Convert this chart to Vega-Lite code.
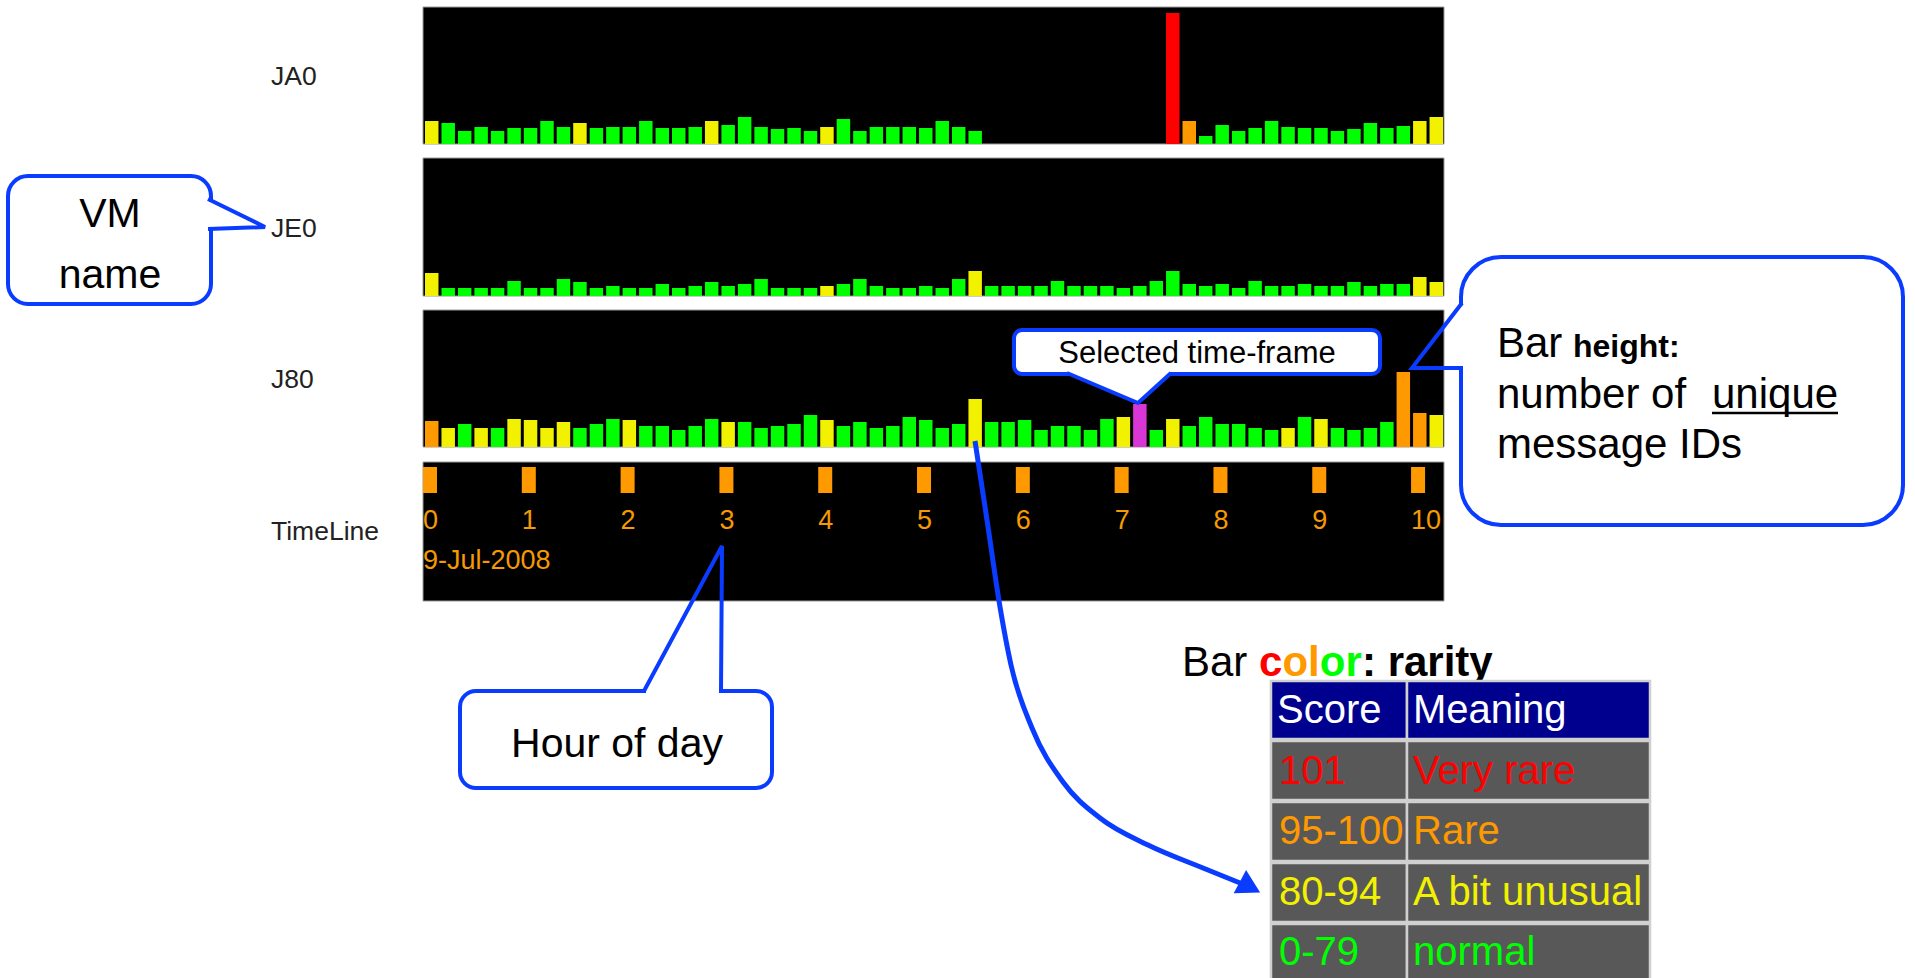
{
 "$schema": "https://vega.github.io/schema/vega-lite/v6.json",
 "width": 1915, "height": 978,
 "autosize": {"type": "fit", "contains": "padding"},
 "padding": 0,
 "background": "#ffffff",
 "config": {"view": {"stroke": null}, "font": "Liberation Sans"},
 "datasets": {
  "ja0": [
   {"start":0,"end":10,"count":23,"rarity":"unusual"},{"start":10,"end":20,"count":21,"rarity":"normal"},{"start":20,"end":30,"count":13,"rarity":"normal"},{"start":30,"end":40,"count":17,"rarity":"normal"},{"start":40,"end":50,"count":13,"rarity":"normal"},{"start":50,"end":60,"count":16,"rarity":"normal"},{"start":60,"end":70,"count":16,"rarity":"normal"},{"start":70,"end":80,"count":23,"rarity":"normal"},{"start":80,"end":90,"count":17,"rarity":"normal"},{"start":90,"end":100,"count":21,"rarity":"unusual"},
   {"start":100,"end":110,"count":16,"rarity":"normal"},{"start":110,"end":120,"count":17,"rarity":"normal"},{"start":120,"end":130,"count":17,"rarity":"normal"},{"start":130,"end":140,"count":23,"rarity":"normal"},{"start":140,"end":150,"count":16,"rarity":"normal"},{"start":150,"end":160,"count":16,"rarity":"normal"},{"start":160,"end":170,"count":17,"rarity":"normal"},{"start":170,"end":180,"count":23,"rarity":"unusual"},{"start":180,"end":190,"count":19,"rarity":"normal"},{"start":190,"end":200,"count":27,"rarity":"normal"},
   {"start":200,"end":210,"count":17,"rarity":"normal"},{"start":210,"end":220,"count":15,"rarity":"normal"},{"start":220,"end":230,"count":16,"rarity":"normal"},{"start":230,"end":240,"count":13,"rarity":"normal"},{"start":240,"end":250,"count":17,"rarity":"unusual"},{"start":250,"end":260,"count":25,"rarity":"normal"},{"start":260,"end":270,"count":13,"rarity":"normal"},{"start":270,"end":280,"count":17,"rarity":"normal"},{"start":280,"end":290,"count":17,"rarity":"normal"},{"start":290,"end":300,"count":17,"rarity":"normal"},
   {"start":300,"end":310,"count":16,"rarity":"normal"},{"start":310,"end":320,"count":23,"rarity":"normal"},{"start":320,"end":330,"count":17,"rarity":"normal"},{"start":330,"end":340,"count":13,"rarity":"normal"},
   {"start":450,"end":460,"count":131,"rarity":"very rare"},{"start":460,"end":470,"count":23,"rarity":"rare"},{"start":470,"end":480,"count":8,"rarity":"normal"},{"start":480,"end":490,"count":19,"rarity":"normal"},{"start":490,"end":500,"count":13,"rarity":"normal"},
   {"start":500,"end":510,"count":16,"rarity":"normal"},{"start":510,"end":520,"count":23,"rarity":"normal"},{"start":520,"end":530,"count":17,"rarity":"normal"},{"start":530,"end":540,"count":16,"rarity":"normal"},{"start":540,"end":550,"count":16,"rarity":"normal"},{"start":550,"end":560,"count":13,"rarity":"normal"},{"start":560,"end":570,"count":15,"rarity":"normal"},{"start":570,"end":580,"count":21,"rarity":"normal"},{"start":580,"end":590,"count":16,"rarity":"normal"},{"start":590,"end":600,"count":18,"rarity":"normal"},
   {"start":600,"end":610,"count":23,"rarity":"unusual"},{"start":610,"end":620,"count":27,"rarity":"unusual"}
  ],
  "je0": [
   {"start":0,"end":10,"count":23,"rarity":"unusual"},{"start":10,"end":20,"count":8,"rarity":"normal"},{"start":20,"end":30,"count":8,"rarity":"normal"},{"start":30,"end":40,"count":8,"rarity":"normal"},{"start":40,"end":50,"count":8,"rarity":"normal"},{"start":50,"end":60,"count":15,"rarity":"normal"},{"start":60,"end":70,"count":8,"rarity":"normal"},{"start":70,"end":80,"count":8,"rarity":"normal"},{"start":80,"end":90,"count":17,"rarity":"normal"},{"start":90,"end":100,"count":14,"rarity":"normal"},
   {"start":100,"end":110,"count":8,"rarity":"normal"},{"start":110,"end":120,"count":10,"rarity":"normal"},{"start":120,"end":130,"count":8,"rarity":"normal"},{"start":130,"end":140,"count":8,"rarity":"normal"},{"start":140,"end":150,"count":12,"rarity":"normal"},{"start":150,"end":160,"count":8,"rarity":"normal"},{"start":160,"end":170,"count":10,"rarity":"normal"},{"start":170,"end":180,"count":14,"rarity":"normal"},{"start":180,"end":190,"count":10,"rarity":"normal"},{"start":190,"end":200,"count":12,"rarity":"normal"},
   {"start":200,"end":210,"count":17,"rarity":"normal"},{"start":210,"end":220,"count":8,"rarity":"normal"},{"start":220,"end":230,"count":8,"rarity":"normal"},{"start":230,"end":240,"count":8,"rarity":"normal"},{"start":240,"end":250,"count":10,"rarity":"unusual"},{"start":250,"end":260,"count":12,"rarity":"normal"},{"start":260,"end":270,"count":17,"rarity":"normal"},{"start":270,"end":280,"count":10,"rarity":"normal"},{"start":280,"end":290,"count":8,"rarity":"normal"},{"start":290,"end":300,"count":8,"rarity":"normal"},
   {"start":300,"end":310,"count":10,"rarity":"normal"},{"start":310,"end":320,"count":8,"rarity":"normal"},{"start":320,"end":330,"count":17,"rarity":"normal"},{"start":330,"end":340,"count":25,"rarity":"unusual"},{"start":340,"end":350,"count":10,"rarity":"normal"},{"start":350,"end":360,"count":10,"rarity":"normal"},{"start":360,"end":370,"count":10,"rarity":"normal"},{"start":370,"end":380,"count":10,"rarity":"normal"},{"start":380,"end":390,"count":15,"rarity":"normal"},{"start":390,"end":400,"count":10,"rarity":"normal"},
   {"start":400,"end":410,"count":10,"rarity":"normal"},{"start":410,"end":420,"count":10,"rarity":"normal"},{"start":420,"end":430,"count":8,"rarity":"normal"},{"start":430,"end":440,"count":10,"rarity":"normal"},{"start":440,"end":450,"count":15,"rarity":"normal"},{"start":450,"end":460,"count":25,"rarity":"normal"},{"start":460,"end":470,"count":12,"rarity":"normal"},{"start":470,"end":480,"count":10,"rarity":"normal"},{"start":480,"end":490,"count":12,"rarity":"normal"},{"start":490,"end":500,"count":8,"rarity":"normal"},
   {"start":500,"end":510,"count":15,"rarity":"normal"},{"start":510,"end":520,"count":10,"rarity":"normal"},{"start":520,"end":530,"count":10,"rarity":"normal"},{"start":530,"end":540,"count":12,"rarity":"normal"},{"start":540,"end":550,"count":10,"rarity":"normal"},{"start":550,"end":560,"count":10,"rarity":"normal"},{"start":560,"end":570,"count":14,"rarity":"normal"},{"start":570,"end":580,"count":10,"rarity":"normal"},{"start":580,"end":590,"count":12,"rarity":"normal"},{"start":590,"end":600,"count":12,"rarity":"normal"},
   {"start":600,"end":610,"count":19,"rarity":"unusual"},{"start":610,"end":620,"count":14,"rarity":"unusual"}
  ],
  "j80": [
   {"start":0,"end":10,"count":26,"rarity":"rare"},{"start":10,"end":20,"count":19,"rarity":"unusual"},{"start":20,"end":30,"count":23,"rarity":"normal"},{"start":30,"end":40,"count":19,"rarity":"unusual"},{"start":40,"end":50,"count":19,"rarity":"normal"},{"start":50,"end":60,"count":28,"rarity":"unusual"},{"start":60,"end":70,"count":27,"rarity":"unusual"},{"start":70,"end":80,"count":19,"rarity":"unusual"},{"start":80,"end":90,"count":25,"rarity":"unusual"},{"start":90,"end":100,"count":19,"rarity":"normal"},
   {"start":100,"end":110,"count":23,"rarity":"normal"},{"start":110,"end":120,"count":28,"rarity":"normal"},{"start":120,"end":130,"count":27,"rarity":"unusual"},{"start":130,"end":140,"count":21,"rarity":"normal"},{"start":140,"end":150,"count":21,"rarity":"normal"},{"start":150,"end":160,"count":17,"rarity":"normal"},{"start":160,"end":170,"count":21,"rarity":"normal"},{"start":170,"end":180,"count":28,"rarity":"normal"},{"start":180,"end":190,"count":25,"rarity":"unusual"},{"start":190,"end":200,"count":25,"rarity":"normal"},
   {"start":200,"end":210,"count":19,"rarity":"normal"},{"start":210,"end":220,"count":21,"rarity":"normal"},{"start":220,"end":230,"count":23,"rarity":"normal"},{"start":230,"end":240,"count":32,"rarity":"normal"},{"start":240,"end":250,"count":27,"rarity":"unusual"},{"start":250,"end":260,"count":21,"rarity":"normal"},{"start":260,"end":270,"count":25,"rarity":"normal"},{"start":270,"end":280,"count":19,"rarity":"normal"},{"start":280,"end":290,"count":21,"rarity":"normal"},{"start":290,"end":300,"count":30,"rarity":"normal"},
   {"start":300,"end":310,"count":27,"rarity":"normal"},{"start":310,"end":320,"count":19,"rarity":"normal"},{"start":320,"end":330,"count":23,"rarity":"normal"},{"start":330,"end":340,"count":48,"rarity":"unusual"},{"start":340,"end":350,"count":25,"rarity":"normal"},{"start":350,"end":360,"count":25,"rarity":"normal"},{"start":360,"end":370,"count":27,"rarity":"normal"},{"start":370,"end":380,"count":17,"rarity":"normal"},{"start":380,"end":390,"count":21,"rarity":"normal"},{"start":390,"end":400,"count":21,"rarity":"normal"},
   {"start":400,"end":410,"count":17,"rarity":"normal"},{"start":410,"end":420,"count":28,"rarity":"normal"},{"start":420,"end":430,"count":30,"rarity":"unusual"},{"start":430,"end":440,"count":43,"rarity":"selected"},{"start":440,"end":450,"count":17,"rarity":"normal"},{"start":450,"end":460,"count":28,"rarity":"unusual"},{"start":460,"end":470,"count":21,"rarity":"normal"},{"start":470,"end":480,"count":30,"rarity":"normal"},{"start":480,"end":490,"count":23,"rarity":"normal"},{"start":490,"end":500,"count":23,"rarity":"normal"},
   {"start":500,"end":510,"count":19,"rarity":"normal"},{"start":510,"end":520,"count":17,"rarity":"normal"},{"start":520,"end":530,"count":19,"rarity":"unusual"},{"start":530,"end":540,"count":30,"rarity":"normal"},{"start":540,"end":550,"count":28,"rarity":"unusual"},{"start":550,"end":560,"count":19,"rarity":"normal"},{"start":560,"end":570,"count":17,"rarity":"normal"},{"start":570,"end":580,"count":19,"rarity":"normal"},{"start":580,"end":590,"count":25,"rarity":"normal"},{"start":590,"end":600,"count":75,"rarity":"rare"},
   {"start":600,"end":610,"count":34,"rarity":"rare"},{"start":610,"end":620,"count":32,"rarity":"unusual"}
  ],
  "hours": [
   {"hour":0,"minute":0},{"hour":1,"minute":60},{"hour":2,"minute":120},{"hour":3,"minute":180},{"hour":4,"minute":240},{"hour":5,"minute":300},{"hour":6,"minute":360},{"hour":7,"minute":420},{"hour":8,"minute":480},{"hour":9,"minute":540},{"hour":10,"minute":600}
  ]
 },
 "resolve": {"scale": {"x": "independent", "y": "independent"}},
 "layer": [
  {
   "layer": [
    {"data": {"values": [{}]}, "mark": {"type": "rect", "fill": "#000000", "stroke": "#9a9a9a", "strokeWidth": 1},
     "encoding": {"x": {"datum": 0, "type": "quantitative", "scale": {"domain": [0, 620], "range": [423, 1444], "nice": false, "zero": false, "padding": 0}, "axis": null}, "x2": {"datum": 620},
      "y": {"datum": 0, "type": "quantitative", "scale": {"domain": [0, 137], "range": [144, 7], "nice": false}, "axis": null}, "y2": {"datum": 137}}},
    {"data": {"name": "ja0"}, "mark": {"type": "bar", "binSpacing": 3},
     "encoding": {"x": {"field": "start", "type": "quantitative", "bin": {"binned": true}, "scale": {"domain": [0, 620], "range": [423, 1444], "nice": false, "zero": false, "padding": 0}, "axis": null}, "x2": {"field": "end"},
      "y": {"field": "count", "type": "quantitative", "scale": {"domain": [0, 137], "range": [144, 7], "nice": false}, "axis": null},
      "color": {"field": "rarity", "type": "nominal", "scale": {"domain": ["normal", "unusual", "rare", "very rare", "selected"], "range": ["#00ff00", "#f2f200", "#ff9900", "#ff0000", "#d936d6"]}, "legend": null}}}
   ]
  },
  {
   "layer": [
    {"data": {"values": [{}]}, "mark": {"type": "rect", "fill": "#000000", "stroke": "#9a9a9a", "strokeWidth": 1},
     "encoding": {"x": {"datum": 0, "type": "quantitative", "scale": {"domain": [0, 620], "range": [423, 1444], "nice": false, "zero": false, "padding": 0}, "axis": null}, "x2": {"datum": 620},
      "y": {"datum": 0, "type": "quantitative", "scale": {"domain": [0, 138], "range": [296, 158], "nice": false}, "axis": null}, "y2": {"datum": 138}}},
    {"data": {"name": "je0"}, "mark": {"type": "bar", "binSpacing": 3},
     "encoding": {"x": {"field": "start", "type": "quantitative", "bin": {"binned": true}, "scale": {"domain": [0, 620], "range": [423, 1444], "nice": false, "zero": false, "padding": 0}, "axis": null}, "x2": {"field": "end"},
      "y": {"field": "count", "type": "quantitative", "scale": {"domain": [0, 138], "range": [296, 158], "nice": false}, "axis": null},
      "color": {"field": "rarity", "type": "nominal", "scale": {"domain": ["normal", "unusual", "rare", "very rare", "selected"], "range": ["#00ff00", "#f2f200", "#ff9900", "#ff0000", "#d936d6"]}, "legend": null}}}
   ]
  },
  {
   "layer": [
    {"data": {"values": [{}]}, "mark": {"type": "rect", "fill": "#000000", "stroke": "#9a9a9a", "strokeWidth": 1},
     "encoding": {"x": {"datum": 0, "type": "quantitative", "scale": {"domain": [0, 620], "range": [423, 1444], "nice": false, "zero": false, "padding": 0}, "axis": null}, "x2": {"datum": 620},
      "y": {"datum": 0, "type": "quantitative", "scale": {"domain": [0, 137], "range": [447, 310], "nice": false}, "axis": null}, "y2": {"datum": 137}}},
    {"data": {"name": "j80"}, "mark": {"type": "bar", "binSpacing": 3},
     "encoding": {"x": {"field": "start", "type": "quantitative", "bin": {"binned": true}, "scale": {"domain": [0, 620], "range": [423, 1444], "nice": false, "zero": false, "padding": 0}, "axis": null}, "x2": {"field": "end"},
      "y": {"field": "count", "type": "quantitative", "scale": {"domain": [0, 137], "range": [447, 310], "nice": false}, "axis": null},
      "color": {"field": "rarity", "type": "nominal", "scale": {"domain": ["normal", "unusual", "rare", "very rare", "selected"], "range": ["#00ff00", "#f2f200", "#ff9900", "#ff0000", "#d936d6"]}, "legend": null}}}
   ]
  },
  {
   "layer": [
    {"data": {"values": [{}]}, "mark": {"type": "rect", "fill": "#000000", "stroke": "#9a9a9a", "strokeWidth": 1},
     "encoding": {"x": {"datum": 0, "type": "quantitative", "scale": {"domain": [0, 620], "range": [423, 1444], "nice": false, "zero": false, "padding": 0}, "axis": null}, "x2": {"datum": 620},
      "y": {"datum": 0, "type": "quantitative", "scale": {"domain": [0, 139], "range": [601, 462], "nice": false}, "axis": null}, "y2": {"datum": 139}}},
    {"data": {"name": "hours"}, "mark": {"type": "bar", "width": 14, "xOffset": 7, "color": "#ff9900"},
     "encoding": {"x": {"field": "minute", "type": "quantitative", "scale": {"domain": [0, 620], "range": [423, 1444], "nice": false, "zero": false, "padding": 0}, "axis": null},
      "y": {"datum": 108, "type": "quantitative", "scale": {"domain": [0, 139], "range": [601, 462], "nice": false}, "axis": null}, "y2": {"datum": 134}}},
    {"data": {"name": "hours"}, "mark": {"type": "text", "align": "left", "baseline": "alphabetic", "fontSize": 27, "color": "#f59a00"},
     "encoding": {"x": {"field": "minute", "type": "quantitative", "scale": {"domain": [0, 620], "range": [423, 1444], "nice": false, "zero": false, "padding": 0}, "axis": null},
      "y": {"datum": 72, "type": "quantitative", "scale": {"domain": [0, 139], "range": [601, 462], "nice": false}, "axis": null},
      "text": {"field": "hour", "type": "nominal"}}},
    {"data": {"values": [{"date": "9-Jul-2008"}]}, "mark": {"type": "text", "align": "left", "baseline": "alphabetic", "fontSize": 27, "color": "#f59a00"},
     "encoding": {"x": {"datum": 0, "type": "quantitative", "scale": {"domain": [0, 620], "range": [423, 1444], "nice": false, "zero": false, "padding": 0}, "axis": null},
      "y": {"datum": 32.5, "type": "quantitative", "scale": {"domain": [0, 139], "range": [601, 462], "nice": false}, "axis": null},
      "text": {"field": "date", "type": "nominal"}}}
   ]
  },
  {
   "layer": [
    {"data": {"values": [{"t": "JA0", "x": 271, "y": 77}, {"t": "JE0", "x": 271, "y": 229}, {"t": "J80", "x": 271, "y": 380}, {"t": "TimeLine", "x": 271, "y": 532}]},
     "mark": {"type": "text", "align": "left", "baseline": "middle", "fontSize": 26.5, "color": "#222222"},
     "encoding": {"x": {"field": "x", "type": "quantitative", "scale": {"domain": [0, 1915], "range": [0, 1915], "nice": false, "zero": false}, "axis": null},
      "y": {"field": "y", "type": "quantitative", "scale": {"domain": [0, 978], "range": [0, 978], "nice": false, "zero": false}, "axis": null},
      "text": {"field": "t"}}},
    {"data": {"values": [{"x": 8, "x2": 211, "y": 176, "y2": 304}]},
     "mark": {"type": "rect", "fill": "#ffffff", "stroke": "#0a3cff", "strokeWidth": 4, "cornerRadius": 20},
     "encoding": {"x": {"field": "x", "type": "quantitative", "scale": {"domain": [0, 1915], "range": [0, 1915], "nice": false, "zero": false}, "axis": null}, "x2": {"field": "x2"},
      "y": {"field": "y", "type": "quantitative", "scale": {"domain": [0, 978], "range": [0, 978], "nice": false, "zero": false}, "axis": null}, "y2": {"field": "y2"}}},
    {"data": {"values": [{"x": 1461, "x2": 1903, "y": 257, "y2": 525}]},
     "mark": {"type": "rect", "fill": "#ffffff", "stroke": "#0a3cff", "strokeWidth": 4, "cornerRadius": 40},
     "encoding": {"x": {"field": "x", "type": "quantitative", "scale": {"domain": [0, 1915], "range": [0, 1915], "nice": false, "zero": false}, "axis": null}, "x2": {"field": "x2"},
      "y": {"field": "y", "type": "quantitative", "scale": {"domain": [0, 978], "range": [0, 978], "nice": false, "zero": false}, "axis": null}, "y2": {"field": "y2"}}},
    {"data": {"values": [{"x": 1014, "x2": 1380, "y": 330, "y2": 374}]},
     "mark": {"type": "rect", "fill": "#ffffff", "stroke": "#0a3cff", "strokeWidth": 4, "cornerRadius": 8},
     "encoding": {"x": {"field": "x", "type": "quantitative", "scale": {"domain": [0, 1915], "range": [0, 1915], "nice": false, "zero": false}, "axis": null}, "x2": {"field": "x2"},
      "y": {"field": "y", "type": "quantitative", "scale": {"domain": [0, 978], "range": [0, 978], "nice": false, "zero": false}, "axis": null}, "y2": {"field": "y2"}}},
    {"data": {"values": [{"x": 460, "x2": 772, "y": 691, "y2": 788}]},
     "mark": {"type": "rect", "fill": "#ffffff", "stroke": "#0a3cff", "strokeWidth": 4, "cornerRadius": 16},
     "encoding": {"x": {"field": "x", "type": "quantitative", "scale": {"domain": [0, 1915], "range": [0, 1915], "nice": false, "zero": false}, "axis": null}, "x2": {"field": "x2"},
      "y": {"field": "y", "type": "quantitative", "scale": {"domain": [0, 978], "range": [0, 978], "nice": false, "zero": false}, "axis": null}, "y2": {"field": "y2"}}},
    {"data": {"values": [{"x": 205, "x2": 216, "y": 202, "y2": 227}, {"x": 1455, "x2": 1467, "y": 305, "y2": 366}, {"x": 646, "x2": 719, "y": 685, "y2": 697}]},
     "mark": {"type": "rect", "fill": "#ffffff"},
     "encoding": {"x": {"field": "x", "type": "quantitative", "scale": {"domain": [0, 1915], "range": [0, 1915], "nice": false, "zero": false}, "axis": null}, "x2": {"field": "x2"},
      "y": {"field": "y", "type": "quantitative", "scale": {"domain": [0, 978], "range": [0, 978], "nice": false, "zero": false}, "axis": null}, "y2": {"field": "y2"}}},
    {"data": {"values": [{"x": 1069, "y": 371, "y2": 374}, {"x": 1138, "y": 371, "y2": 403}, {"x": 1169, "y": 371, "y2": 374}]},
     "mark": {"type": "area", "orient": "vertical", "fill": "#ffffff", "opacity": 1},
     "encoding": {"x": {"field": "x", "type": "quantitative", "scale": {"domain": [0, 1915], "range": [0, 1915], "nice": false, "zero": false}, "axis": null},
      "y": {"field": "y", "type": "quantitative", "scale": {"domain": [0, 978], "range": [0, 978], "nice": false, "zero": false}, "axis": null}, "y2": {"field": "y2"}}},
    {"data": {"values": [
      {"id": "vm", "i": 0, "x": 208, "y": 199}, {"id": "vm", "i": 1, "x": 265, "y": 227}, {"id": "vm", "i": 2, "x": 208, "y": 229},
      {"id": "bh", "i": 0, "x": 1462, "y": 303}, {"id": "bh", "i": 1, "x": 1412, "y": 368}, {"id": "bh", "i": 2, "x": 1463, "y": 368},
      {"id": "hr", "i": 0, "x": 644, "y": 691}, {"id": "hr", "i": 1, "x": 722, "y": 546}, {"id": "hr", "i": 2, "x": 721, "y": 691},
      {"id": "sel", "i": 0, "x": 1067, "y": 373}, {"id": "sel", "i": 1, "x": 1138, "y": 403}, {"id": "sel", "i": 2, "x": 1171, "y": 373}]},
     "mark": {"type": "line", "stroke": "#0a3cff", "strokeWidth": 4, "strokeJoin": "miter"},
     "encoding": {"x": {"field": "x", "type": "quantitative", "scale": {"domain": [0, 1915], "range": [0, 1915], "nice": false, "zero": false}, "axis": null},
      "y": {"field": "y", "type": "quantitative", "scale": {"domain": [0, 978], "range": [0, 978], "nice": false, "zero": false}, "axis": null},
      "detail": {"field": "id"}, "order": {"field": "i", "type": "quantitative"}}},
    {"data": {"values": [{"t": "VM", "x": 110, "y": 227}, {"t": "name", "x": 110, "y": 288}, {"t": "Hour of day", "x": 617, "y": 757}]},
     "mark": {"type": "text", "align": "center", "baseline": "alphabetic", "fontSize": 41, "color": "#000000"},
     "encoding": {"x": {"field": "x", "type": "quantitative", "scale": {"domain": [0, 1915], "range": [0, 1915], "nice": false, "zero": false}, "axis": null},
      "y": {"field": "y", "type": "quantitative", "scale": {"domain": [0, 978], "range": [0, 978], "nice": false, "zero": false}, "axis": null},
      "text": {"field": "t"}}},
    {"data": {"values": [{"t": "Bar", "x": 1497, "y": 357}, {"t": "number of", "x": 1497, "y": 408}, {"t": "unique", "x": 1712, "y": 408}, {"t": "message IDs", "x": 1497, "y": 458}]},
     "mark": {"type": "text", "align": "left", "baseline": "alphabetic", "fontSize": 42, "color": "#000000"},
     "encoding": {"x": {"field": "x", "type": "quantitative", "scale": {"domain": [0, 1915], "range": [0, 1915], "nice": false, "zero": false}, "axis": null},
      "y": {"field": "y", "type": "quantitative", "scale": {"domain": [0, 978], "range": [0, 978], "nice": false, "zero": false}, "axis": null},
      "text": {"field": "t"}}},
    {"data": {"values": [{"t": "height:", "x": 1573, "y": 357}]},
     "mark": {"type": "text", "align": "left", "baseline": "alphabetic", "fontSize": 32, "fontWeight": "bold", "color": "#000000"},
     "encoding": {"x": {"field": "x", "type": "quantitative", "scale": {"domain": [0, 1915], "range": [0, 1915], "nice": false, "zero": false}, "axis": null},
      "y": {"field": "y", "type": "quantitative", "scale": {"domain": [0, 978], "range": [0, 978], "nice": false, "zero": false}, "axis": null},
      "text": {"field": "t"}}},
    {"data": {"values": [{"t": "Selected time-frame", "x": 1197, "y": 363}]},
     "mark": {"type": "text", "align": "center", "baseline": "alphabetic", "fontSize": 31, "color": "#000000"},
     "encoding": {"x": {"field": "x", "type": "quantitative", "scale": {"domain": [0, 1915], "range": [0, 1915], "nice": false, "zero": false}, "axis": null},
      "y": {"field": "y", "type": "quantitative", "scale": {"domain": [0, 978], "range": [0, 978], "nice": false, "zero": false}, "axis": null},
      "text": {"field": "t"}}},
    {"data": {"values": [{"x": 1712, "x2": 1838, "y": 413}]},
     "mark": {"type": "rule", "stroke": "#000000", "strokeWidth": 2.5},
     "encoding": {"x": {"field": "x", "type": "quantitative", "scale": {"domain": [0, 1915], "range": [0, 1915], "nice": false, "zero": false}, "axis": null}, "x2": {"field": "x2"},
      "y": {"field": "y", "type": "quantitative", "scale": {"domain": [0, 978], "range": [0, 978], "nice": false, "zero": false}, "axis": null}}},
    {"data": {"values": [{"t": "Bar", "x": 1182, "y": 676}]},
     "mark": {"type": "text", "align": "left", "baseline": "alphabetic", "fontSize": 42, "color": "#000000"},
     "encoding": {"x": {"field": "x", "type": "quantitative", "scale": {"domain": [0, 1915], "range": [0, 1915], "nice": false, "zero": false}, "axis": null},
      "y": {"field": "y", "type": "quantitative", "scale": {"domain": [0, 978], "range": [0, 978], "nice": false, "zero": false}, "axis": null},
      "text": {"field": "t"}}},
    {"data": {"values": [{"t": ": rarity", "x": 1362, "y": 676}]},
     "mark": {"type": "text", "align": "left", "baseline": "alphabetic", "fontSize": 42, "fontWeight": "bold", "color": "#000000"},
     "encoding": {"x": {"field": "x", "type": "quantitative", "scale": {"domain": [0, 1915], "range": [0, 1915], "nice": false, "zero": false}, "axis": null},
      "y": {"field": "y", "type": "quantitative", "scale": {"domain": [0, 978], "range": [0, 978], "nice": false, "zero": false}, "axis": null},
      "text": {"field": "t"}}},
    {"data": {"values": [{"t": "c", "x": 1259, "y": 676, "rarity": "very rare"}, {"t": "o", "x": 1282.4, "y": 676, "rarity": "rare"}, {"t": "l", "x": 1308.1, "y": 676, "rarity": "rare"}, {"t": "o", "x": 1319.8, "y": 676, "rarity": "normal"}, {"t": "r", "x": 1345.5, "y": 676, "rarity": "normal"}]},
     "mark": {"type": "text", "align": "left", "baseline": "alphabetic", "fontSize": 42, "fontWeight": "bold"},
     "encoding": {"x": {"field": "x", "type": "quantitative", "scale": {"domain": [0, 1915], "range": [0, 1915], "nice": false, "zero": false}, "axis": null},
      "y": {"field": "y", "type": "quantitative", "scale": {"domain": [0, 978], "range": [0, 978], "nice": false, "zero": false}, "axis": null},
      "text": {"field": "t"},
      "color": {"field": "rarity", "type": "nominal", "scale": {"domain": ["normal", "unusual", "rare", "very rare", "selected"], "range": ["#00ff00", "#f2f200", "#ff9900", "#ff0000", "#d936d6"]}, "legend": null}}},
    {"data": {"values": [{"x": 1271, "x2": 1407, "y": 681, "y2": 739}, {"x": 1407, "x2": 1650, "y": 681, "y2": 739}]},
     "mark": {"type": "rect", "fill": "#00008f", "stroke": "#d0d0d0", "strokeWidth": 2.5},
     "encoding": {"x": {"field": "x", "type": "quantitative", "scale": {"domain": [0, 1915], "range": [0, 1915], "nice": false, "zero": false}, "axis": null}, "x2": {"field": "x2"},
      "y": {"field": "y", "type": "quantitative", "scale": {"domain": [0, 978], "range": [0, 978], "nice": false, "zero": false}, "axis": null}, "y2": {"field": "y2"}}},
    {"data": {"values": [
      {"x": 1271, "x2": 1407, "y": 741, "y2": 800}, {"x": 1407, "x2": 1650, "y": 741, "y2": 800},
      {"x": 1271, "x2": 1407, "y": 802, "y2": 861}, {"x": 1407, "x2": 1650, "y": 802, "y2": 861},
      {"x": 1271, "x2": 1407, "y": 863, "y2": 922}, {"x": 1407, "x2": 1650, "y": 863, "y2": 922},
      {"x": 1271, "x2": 1407, "y": 924, "y2": 990}, {"x": 1407, "x2": 1650, "y": 924, "y2": 990}]},
     "mark": {"type": "rect", "fill": "#585858", "stroke": "#d0d0d0", "strokeWidth": 2.5},
     "encoding": {"x": {"field": "x", "type": "quantitative", "scale": {"domain": [0, 1915], "range": [0, 1915], "nice": false, "zero": false}, "axis": null}, "x2": {"field": "x2"},
      "y": {"field": "y", "type": "quantitative", "scale": {"domain": [0, 978], "range": [0, 978], "nice": false, "zero": false}, "axis": null}, "y2": {"field": "y2"}}},
    {"data": {"values": [{"t": "Score", "x": 1277, "y": 711}, {"t": "Meaning", "x": 1413, "y": 711}]},
     "mark": {"type": "text", "align": "left", "baseline": "middle", "fontSize": 40, "color": "#ffffff"},
     "encoding": {"x": {"field": "x", "type": "quantitative", "scale": {"domain": [0, 1915], "range": [0, 1915], "nice": false, "zero": false}, "axis": null},
      "y": {"field": "y", "type": "quantitative", "scale": {"domain": [0, 978], "range": [0, 978], "nice": false, "zero": false}, "axis": null},
      "text": {"field": "t"}}},
    {"data": {"values": [
      {"t": "101", "x": 1279, "y": 772, "rarity": "very rare"}, {"t": "Very rare", "x": 1413, "y": 772, "rarity": "very rare"},
      {"t": "95-100", "x": 1279, "y": 832, "rarity": "rare"}, {"t": "Rare", "x": 1413, "y": 832, "rarity": "rare"},
      {"t": "80-94", "x": 1279, "y": 893, "rarity": "unusual"}, {"t": "A bit unusual", "x": 1413, "y": 893, "rarity": "unusual"},
      {"t": "0-79", "x": 1279, "y": 953, "rarity": "normal"}, {"t": "normal", "x": 1413, "y": 953, "rarity": "normal"}]},
     "mark": {"type": "text", "align": "left", "baseline": "middle", "fontSize": 40},
     "encoding": {"x": {"field": "x", "type": "quantitative", "scale": {"domain": [0, 1915], "range": [0, 1915], "nice": false, "zero": false}, "axis": null},
      "y": {"field": "y", "type": "quantitative", "scale": {"domain": [0, 978], "range": [0, 978], "nice": false, "zero": false}, "axis": null},
      "text": {"field": "t"},
      "color": {"field": "rarity", "type": "nominal", "scale": {"domain": ["normal", "unusual", "rare", "very rare", "selected"], "range": ["#00ff00", "#f2f200", "#ff9900", "#ff0000", "#d936d6"]}, "legend": null}}},
    {"data": {"values": [
      {"i": 0, "x": 975, "y": 441}, {"i": 1, "x": 987, "y": 520}, {"i": 2, "x": 1000, "y": 607}, {"i": 3, "x": 1011, "y": 665}, {"i": 4, "x": 1032, "y": 728},
      {"i": 5, "x": 1063, "y": 782}, {"i": 6, "x": 1100, "y": 818}, {"i": 7, "x": 1148, "y": 845}, {"i": 8, "x": 1203, "y": 868}, {"i": 9, "x": 1245, "y": 885}]},
     "mark": {"type": "line", "stroke": "#0a3cff", "strokeWidth": 5, "interpolate": "monotone"},
     "encoding": {"x": {"field": "x", "type": "quantitative", "scale": {"domain": [0, 1915], "range": [0, 1915], "nice": false, "zero": false}, "axis": null},
      "y": {"field": "y", "type": "quantitative", "scale": {"domain": [0, 978], "range": [0, 978], "nice": false, "zero": false}, "axis": null},
      "order": {"field": "i", "type": "quantitative"}}},
    {"data": {"values": [{"x": 1250, "y": 887}]},
     "mark": {"type": "point", "shape": "triangle-right", "filled": true, "size": 700, "angle": 28, "color": "#0a3cff", "opacity": 1},
     "encoding": {"x": {"field": "x", "type": "quantitative", "scale": {"domain": [0, 1915], "range": [0, 1915], "nice": false, "zero": false}, "axis": null},
      "y": {"field": "y", "type": "quantitative", "scale": {"domain": [0, 978], "range": [0, 978], "nice": false, "zero": false}, "axis": null}}}
   ]
  }
 ]
}
